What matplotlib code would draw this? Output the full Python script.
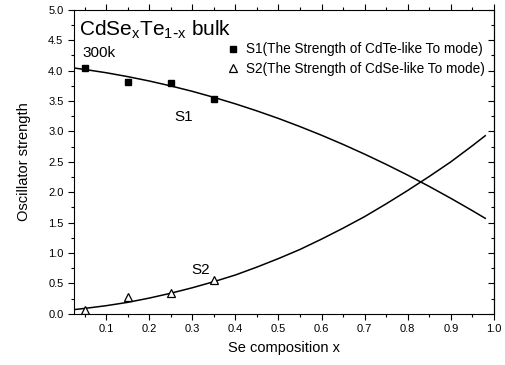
import matplotlib
matplotlib.use("Agg")
import matplotlib.pyplot as plt
from matplotlib.ticker import MultipleLocator

plt.rcParams['font.family'] = ['Liberation Sans', 'DejaVu Sans']

# measured points
x_pts = [0.05, 0.15, 0.25, 0.35]
s1_pts = [4.05, 3.81, 3.80, 3.53]
s2_pts = [0.07, 0.28, 0.34, 0.56]

# fitted curves
x_fit = [0.025, 0.05, 0.10, 0.15, 0.20, 0.25, 0.30, 0.35, 0.40, 0.45, 0.50,
         0.55, 0.60, 0.65, 0.70, 0.75, 0.80, 0.85, 0.90, 0.95, 0.98]
s1_fit = [4.044, 4.020, 3.966, 3.902, 3.830, 3.749, 3.660, 3.561, 3.454, 3.338, 3.214,
          3.080, 2.938, 2.787, 2.627, 2.459, 2.282, 2.096, 1.901, 1.698, 1.572]
s2_fit = [0.07, 0.09, 0.135, 0.19, 0.26, 0.34, 0.43, 0.53, 0.64, 0.77, 0.91,
          1.06, 1.23, 1.41, 1.60, 1.81, 2.03, 2.26, 2.50, 2.765, 2.93]

fig = plt.figure(figsize=(5.06, 3.65), dpi=100)
ax = fig.add_axes([0.146, 0.140, 0.830, 0.833])

ax.plot(x_fit, s1_fit, color='black', lw=1.1)
ax.plot(x_fit, s2_fit, color='black', lw=1.1)
ax.plot(x_pts, s1_pts, 's', color='black', ms=5, ls='none',
        label='S1(The Strength of CdTe-like To mode)')
ax.plot(x_pts, s2_pts, '^', mfc='white', mec='black', mew=0.9, ms=6, ls='none',
        label='S2(The Strength of CdSe-like To mode)')

ax.set_xlim(0.025, 1.0)
ax.set_ylim(0, 5.0)
ax.xaxis.set_major_locator(MultipleLocator(0.1))
ax.xaxis.set_minor_locator(MultipleLocator(0.05))
ax.yaxis.set_major_locator(MultipleLocator(0.5))
ax.yaxis.set_minor_locator(MultipleLocator(0.25))
ax.tick_params(which='both', direction='out', labelsize=8, width=0.8, top=True, right=False)
ax.tick_params(which='major', length=4)
ax.tick_params(which='minor', length=2)

# right side ticks point inward
sec = ax.secondary_yaxis('right')
sec.yaxis.set_major_locator(MultipleLocator(0.5))
sec.yaxis.set_minor_locator(MultipleLocator(0.25))
sec.tick_params(which='both', direction='in', labelright=False, width=0.8)
sec.tick_params(which='major', length=4)
sec.tick_params(which='minor', length=2)

ax.set_xlabel('Se composition x', fontsize=10.5, labelpad=5)
ax.set_ylabel('Oscillator strength', fontsize=10.5, labelpad=12)

ax.text(0.038, 4.58, 'CdSe$_\\mathregular{x}$Te$_\\mathregular{1\\text{-}x}$ bulk', fontsize=15)
ax.text(0.044, 4.22, '300k', fontsize=11)
ax.text(0.258, 3.17, 'S1', fontsize=11)
ax.text(0.297, 0.65, 'S2', fontsize=11)

ax.legend(loc='upper left', bbox_to_anchor=(0.336, 0.92), frameon=False, fontsize=9.8,
          handletextpad=0.25, labelspacing=0.38, handlelength=1.4, borderaxespad=0.2)

fig.savefig('out.png', dpi=100)
